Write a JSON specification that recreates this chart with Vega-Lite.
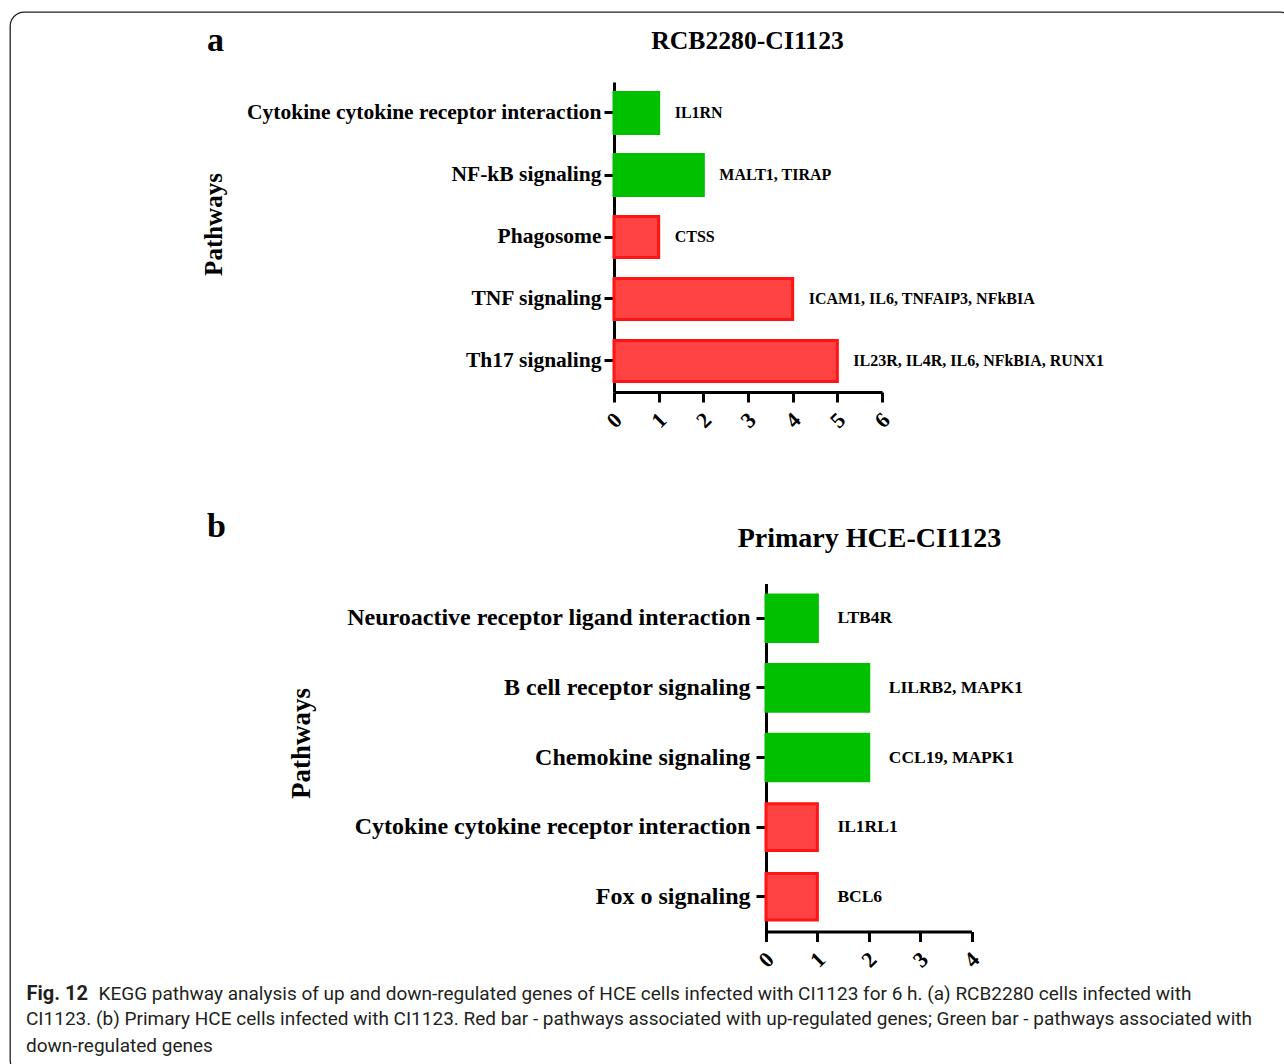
{
  "$schema": "https://vega.github.io/schema/vega-lite/v6.json",
  "width": 1284,
  "height": 1062,
  "autosize": {"type": "none"},
  "padding": {"left": 10, "top": 12, "right": -10, "bottom": -10},
  "background": "white",
  "title": {
    "text": ["CI1123. (b) Primary HCE cells infected with CI1123. Red bar - pathways associated with up-regulated genes; Green bar - pathways associated with", "down-regulated genes"],
    "orient": "top",
    "anchor": "start",
    "frame": "group",
    "offset": -1059,
    "dx": 16,
    "baseline": "alphabetic",
    "lineHeight": 27,
    "font": "Roboto",
    "fontSize": 19,
    "fontWeight": "normal",
    "color": "#231f20",
    "limit": 1300
  },
  "datasets": {
    "panelA": [
      {"pathway": "Cytokine cytokine receptor interaction", "genes": "IL1RN", "count": 1, "direction": "down"},
      {"pathway": "NF-kB signaling", "genes": "MALT1, TIRAP", "count": 2, "direction": "down"},
      {"pathway": "Phagosome", "genes": "CTSS", "count": 1, "direction": "up"},
      {"pathway": "TNF signaling", "genes": "ICAM1, IL6, TNFAIP3, NFkBIA", "count": 4, "direction": "up"},
      {"pathway": "Th17 signaling", "genes": "IL23R, IL4R, IL6, NFkBIA, RUNX1", "count": 5, "direction": "up"}
    ],
    "panelB": [
      {"pathway": "Neuroactive receptor ligand interaction", "genes": "LTB4R", "count": 1, "direction": "down"},
      {"pathway": "B cell receptor signaling", "genes": "LILRB2, MAPK1", "count": 2, "direction": "down"},
      {"pathway": "Chemokine signaling", "genes": "CCL19, MAPK1", "count": 2, "direction": "down"},
      {"pathway": "Cytokine cytokine receptor interaction", "genes": "IL1RL1", "count": 1, "direction": "up"},
      {"pathway": "Fox o signaling", "genes": "BCL6", "count": 1, "direction": "up"}
    ]
  },
  "layer": [
    {
      "data": {"name": "panelA"},
      "mark": {"type": "bar", "strokeWidth": 3},
      "encoding": {
        "y": {
          "field": "pathway", "type": "nominal", "sort": null,
          "scale": {"range": [70, 380], "paddingInner": 0.34, "paddingOuter": 0.17},
          "axis": {
            "orient": "left", "offset": -604, "labelFontSize": 21.5, "labelPadding": 3,
            "title": "Pathways", "titleFontSize": 25, "titleX": -401, "titleY": 212,
            "titleAngle": -90, "titleAlign": "center", "titleBaseline": "middle"
          }
        },
        "x": {
          "field": "count", "type": "quantitative",
          "scale": {"domain": [0, 6], "range": [604, 872], "nice": false},
          "axis": {
            "orient": "bottom", "offset": -682, "values": [0, 1, 2, 3, 4, 5, 6],
            "labelFontSize": 22, "labelAngle": -45, "labelAlign": "center", "labelBaseline": "middle", "labelPadding": 18,
            "title": "RCB2280-CI1123", "titleFontSize": 25.7, "titleX": 737, "titleY": -344,
            "titleAlign": "center", "titleBaseline": "alphabetic"
          }
        },
        "color": {"field": "direction", "type": "nominal", "scale": {"domain": ["down", "up"], "range": ["#00c000", "#ff4343"]}, "legend": null},
        "stroke": {"field": "direction", "type": "nominal", "scale": {"domain": ["down", "up"], "range": ["#00c000", "#ff1414"]}, "legend": null}
      }
    },
    {
      "data": {"name": "panelA"},
      "mark": {"type": "text", "align": "left", "baseline": "middle", "dx": 16, "font": "Liberation Serif", "fontWeight": "bold", "fontSize": 16, "color": "black"},
      "encoding": {
        "y": {
          "field": "pathway", "type": "nominal", "sort": null,
          "scale": {"type": "point", "range": [70, 380], "padding": 0.5},
          "axis": {
            "orient": "left", "offset": 0, "labels": false, "ticks": false, "domain": false,
            "title": "a", "titleFontSize": 34, "titleX": 205, "titleY": 38, "titleAngle": 0,
            "titleAlign": "center", "titleBaseline": "alphabetic"
          }
        },
        "x": {
          "field": "count", "type": "quantitative",
          "scale": {"domain": [0, 6], "range": [604, 872], "nice": false},
          "axis": {
            "orient": "bottom", "offset": 0, "labels": false, "ticks": false, "domain": false,
            "title": "Fig. 12", "titleFont": "Roboto", "titleFontSize": 20, "titleFontWeight": "bold",
            "titleColor": "#231f20", "titleX": 16, "titleY": -75, "titleAlign": "left", "titleBaseline": "alphabetic"
          }
        },
        "text": {"field": "genes", "type": "nominal"}
      }
    },
    {
      "data": {"name": "panelB"},
      "mark": {"type": "bar", "strokeWidth": 3},
      "encoding": {
        "y": {
          "field": "pathway", "type": "nominal", "sort": null,
          "scale": {"range": [571.5, 919.5], "paddingInner": 0.33, "paddingOuter": 0.165},
          "axis": {
            "orient": "left", "offset": -756, "labelFontSize": 24, "labelPadding": 6,
            "title": "Pathways", "titleFontSize": 27, "titleX": -465, "titleY": 731,
            "titleAngle": -90, "titleAlign": "center", "titleBaseline": "middle"
          }
        },
        "x": {
          "field": "count", "type": "quantitative",
          "scale": {"domain": [0, 4], "range": [756, 961.5], "nice": false},
          "axis": {
            "orient": "bottom", "offset": -142.5, "values": [0, 1, 2, 3, 4],
            "labelFontSize": 22, "labelAngle": -45, "labelAlign": "center", "labelBaseline": "middle", "labelPadding": 18,
            "title": "Primary HCE-CI1123", "titleFontSize": 28, "titleX": 859, "titleY": -385.5,
            "titleAlign": "center", "titleBaseline": "alphabetic"
          }
        },
        "color": {"field": "direction", "type": "nominal", "scale": {"domain": ["down", "up"], "range": ["#00c000", "#ff4343"]}, "legend": null},
        "stroke": {"field": "direction", "type": "nominal", "scale": {"domain": ["down", "up"], "range": ["#00c000", "#ff1414"]}, "legend": null}
      }
    },
    {
      "data": {"name": "panelB"},
      "mark": {"type": "text", "align": "left", "baseline": "middle", "dx": 20, "font": "Liberation Serif", "fontWeight": "bold", "fontSize": 17.5, "color": "black"},
      "encoding": {
        "y": {
          "field": "pathway", "type": "nominal", "sort": null,
          "scale": {"type": "point", "range": [571.5, 919.5], "padding": 0.5},
          "axis": {
            "orient": "left", "offset": 0, "labels": false, "ticks": false, "domain": false,
            "title": "b", "titleFontSize": 34, "titleX": 206, "titleY": 524, "titleAngle": 0,
            "titleAlign": "center", "titleBaseline": "alphabetic"
          }
        },
        "x": {
          "field": "count", "type": "quantitative",
          "scale": {"domain": [0, 4], "range": [756, 961.5], "nice": false},
          "axis": {
            "orient": "bottom", "offset": 0, "labels": false, "ticks": false, "domain": false,
            "title": "KEGG pathway analysis of up and down-regulated genes of HCE cells infected with CI1123 for 6 h. (a) RCB2280 cells infected with",
            "titleFont": "Roboto", "titleFontSize": 19, "titleFontWeight": "normal",
            "titleColor": "#231f20", "titleX": 88, "titleY": -75, "titleAlign": "left", "titleBaseline": "alphabetic"
          }
        },
        "text": {"field": "genes", "type": "nominal"}
      }
    }
  ],
  "resolve": {
    "scale": {"x": "independent", "y": "independent"},
    "axis": {"x": "independent", "y": "independent"}
  },
  "config": {
    "view": {"stroke": "#222222", "strokeWidth": 1.3, "cornerRadius": 14},
    "axis": {
      "grid": false,
      "domainColor": "black", "domainWidth": 3,
      "tickColor": "black", "tickWidth": 3, "tickSize": 10,
      "labelFont": "Liberation Serif", "labelFontWeight": "bold", "labelColor": "black",
      "labelLimit": 1000, "labelOverlap": false,
      "titleFont": "Liberation Serif", "titleFontWeight": "bold", "titleColor": "black",
      "titleLimit": 1300, "titlePadding": 0
    }
  }
}
